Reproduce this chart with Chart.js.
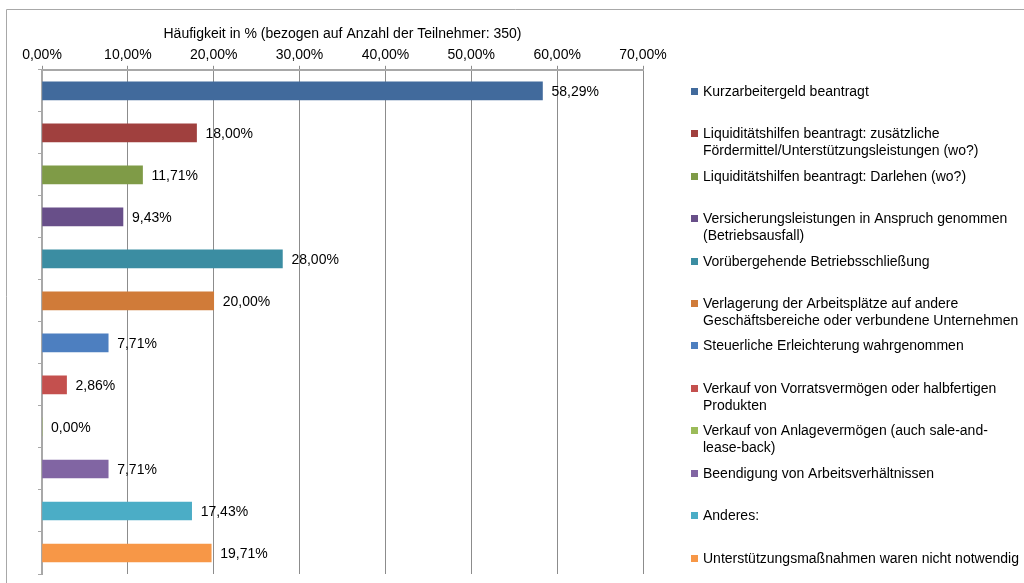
<!DOCTYPE html>
<html>
<head>
<meta charset="utf-8">
<script src="https://cdn.jsdelivr.net/npm/chart.js@4.4.1/dist/chart.umd.min.js"></script>
<style>
  html, body { margin: 0; padding: 0; background: #fff; }
  #wrap { position: relative; width: 1024px; height: 583px; }
</style>
</head>
<body>
<div id="wrap"><canvas id="myChart"></canvas></div>
<script>
// Massnahmen (legend text, already broken into lines as in the original)
var categories = [
  ['Kurzarbeitergeld beantragt'],
  ['Liquiditätshilfen beantragt: zusätzliche', 'Fördermittel/Unterstützungsleistungen (wo?)'],
  ['Liquiditätshilfen beantragt: Darlehen (wo?)'],
  ['Versicherungsleistungen in Anspruch genommen', '(Betriebsausfall)'],
  ['Vorübergehende Betriebsschließung'],
  ['Verlagerung der Arbeitsplätze auf andere', 'Geschäftsbereiche oder verbundene Unternehmen'],
  ['Steuerliche Erleichterung wahrgenommen'],
  ['Verkauf von Vorratsvermögen oder halbfertigen', 'Produkten'],
  ['Verkauf von Anlagevermögen (auch sale-and-', 'lease-back)'],
  ['Beendigung von Arbeitsverhältnissen'],
  ['Anderes:'],
  ['Unterstützungsmaßnahmen waren nicht notwendig']
]
// Haeufigkeit in %
var values = [58.29, 18.00, 11.71, 9.43, 28.00, 20.00, 7.71, 2.86, 0.00, 7.71, 17.43, 19.71]
var colors = ['#416A9C', '#A0403E', '#7F9B47', '#684F89', '#3B8DA2', '#D07B39',
  '#4D7FC0', '#C4504E', '#9BBB59', '#8165A3', '#4BADC6', '#F79747']
var axisTitle = 'Häufigkeit in % (bezogen auf Anzahl der Teilnehmer: 350)'

var FONT = 'Liberation Sans, Arial, sans-serif'

function fmt (v) {
  return v.toFixed(2).replace('.', ',') + '%'
}

// grey frame of the original chart object
var framePlugin = {
  id: 'frame',
  beforeDraw: function (chart) {
    var c = chart.ctx
    c.save()
    c.strokeStyle = '#a8a8a8'
    c.lineWidth = 1
    c.beginPath()
    c.moveTo(6.5, chart.height)
    c.lineTo(6.5, 9.5)
    c.lineTo(chart.width, 9.5)
    c.stroke()
    c.restore()
  }
}

var valueLabels = {
  id: 'valueLabels',
  afterDatasetsDraw: function (chart) {
    var c = chart.ctx
    var meta = chart.getDatasetMeta(0)
    c.save()
    c.font = '14px ' + FONT
    c.fillStyle = '#000'
    c.textBaseline = 'middle'
    meta.data.forEach(function (bar, i) {
      c.fillText(fmt(values[i]), bar.x + 9, bar.y + 1)
    })
    c.restore()
  }
}

var sideLegend = {
  id: 'sideLegend',
  afterDraw: function (chart) {
    var c = chart.ctx
    var y = chart.scales.y
    c.save()
    c.font = '14px ' + FONT
    c.textBaseline = 'middle'
    categories.forEach(function (lines, i) {
      var cy = Math.round(y.getPixelForValue(i) + i * 0.42)
      c.fillStyle = colors[i]
      c.fillRect(691, cy - 3, 7, 7)
      c.fillStyle = '#000'
      lines.forEach(function (t, k) {
        c.fillText(t, 703, cy + 1 + k * 17)
      })
    })
    c.restore()
  }
}

var ctx = document.getElementById('myChart')
var myChart = new Chart(ctx, {
  type: 'bar',
  data: {
    labels: categories.map(function (l) { return l.join(' ') }),
    datasets: [{
      data: values,
      backgroundColor: colors,
      barThickness: 18
    }]
  },
  options: {
    indexAxis: 'y',
    responsive: true,
    maintainAspectRatio: false,
    animation: false,
    layout: {
      padding: { top: 27, left: 38, right: 381, bottom: 9 }
    },
    plugins: {
      legend: { display: false },
      tooltip: { enabled: false }
    },
    scales: {
      x: {
        position: 'top',
        min: 0,
        max: 70,
        ticks: {
          stepSize: 10,
          color: '#000',
          font: { family: FONT, size: 14 },
          padding: 2,
          callback: function (v) { return fmt(v) }
        },
        grid: { color: '#8c8c8c', tickLength: 4 },
        border: { color: '#a8a8a8', width: 2 },
        title: {
          display: true,
          text: axisTitle,
          color: '#000',
          font: { family: FONT, size: 14, lineHeight: 1 },
          padding: { top: 0, bottom: 4 }
        }
      },
      y: {
        ticks: { display: false },
        grid: { drawOnChartArea: false, offset: true, tickLength: 4, color: '#a8a8a8' },
        border: { color: '#a8a8a8', width: 2 }
      }
    }
  },
  plugins: [framePlugin, valueLabels, sideLegend]
})
</script>
</body>
</html>
